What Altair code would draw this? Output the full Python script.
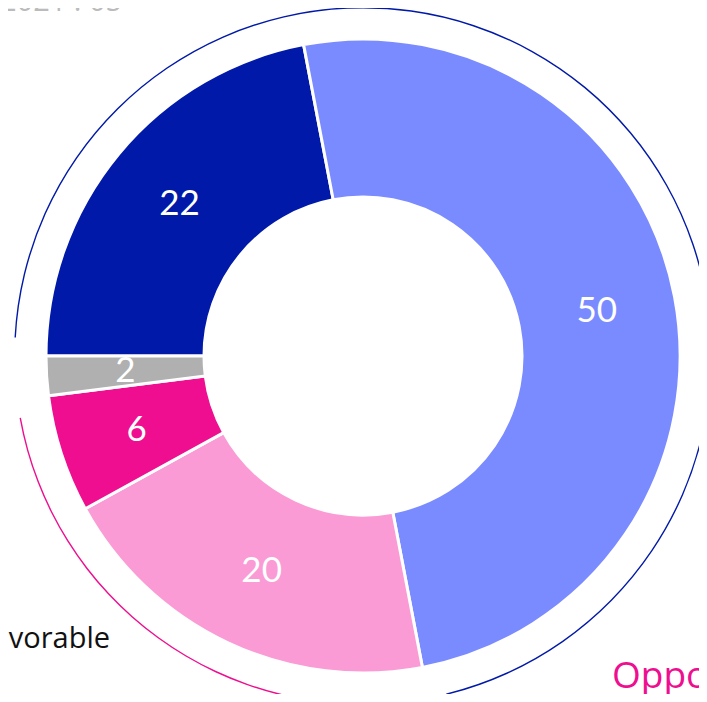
import altair as alt
import pandas as pd
import math

# Data
categories = ["Very favorable", "Somewhat favorable", "Somewhat opposed", "Strongly opposed", "No opinion"]
values = [22, 50, 20, 6, 2]
palette = ["#0019A8", "#7A8BFF", "#FA9BD5", "#EE0E8F", "#B0B0B0"]

groups = ["Favorable", "Opposed", "None"]
group_values = [22 + 50, 20 + 6, 2]
group_colors = ["#0019A8", "#EE0E8F", "transparent"]

title_text = "2021 : 05"

W, H = 691, 686
CX, CY = 355, 348

df = pd.DataFrame({"cat": categories, "value": values, "order": list(range(len(categories)))})
gdf = pd.DataFrame({"grp": groups, "value": group_values, "order": list(range(len(groups)))})

theta_scale = alt.Scale(range=[-math.pi / 2, 3 * math.pi / 2])

base = alt.Chart(df).encode(
    theta=alt.Theta("value:Q", stack=True, scale=theta_scale),
    order=alt.Order("order:O"),
    x=alt.value(CX),
    y=alt.value(CY),
)

donut = base.mark_arc(radius=317, radius2=159, stroke="white", strokeWidth=3).encode(
    color=alt.Color("cat:N", scale=alt.Scale(domain=categories, range=palette), legend=None)
)

labels = base.mark_text(radius=238, font="Lato", fontSize=35, color="white").encode(
    text=alt.Text("value:Q")
)

ring = alt.Chart(gdf).mark_arc(radius=349, radius2=347.6, padAngle=0.075).encode(
    theta=alt.Theta("value:Q", stack=True, scale=theta_scale),
    order=alt.Order("order:O"),
    x=alt.value(CX),
    y=alt.value(CY),
    color=alt.Color("grp:N", scale=alt.Scale(domain=groups, range=group_colors), legend=None),
)

tdf = pd.DataFrame({"t": ["Favorable", "Opposed", title_text]})

fav = alt.Chart(tdf).transform_filter(alt.datum.t == "Favorable").mark_text(
    font="Open Sans", fontSize=29, color="#111111", align="right", baseline="alphabetic"
).encode(text="t:N", x=alt.value(102), y=alt.value(640))

opp = alt.Chart(tdf).transform_filter(alt.datum.t == "Opposed").mark_text(
    font="Open Sans", fontSize=37, color="#EE0E8F", align="left", baseline="alphabetic"
).encode(text="t:N", x=alt.value(604), y=alt.value(680))

ttl = alt.Chart(tdf).transform_filter(alt.datum.t == title_text).mark_text(
    font="Open Sans", fontSize=29, color="#BBBBBB", align="left", baseline="alphabetic"
).encode(text="t:N", x=alt.value(-8), y=alt.value(3))

chart = alt.layer(ring, donut, labels, fav, opp, ttl).resolve_scale(
    color="independent"
).properties(
    width=W, height=H, padding=0, autosize=alt.AutoSizeParams(type="none")
).configure_view(stroke=None)

chart.save("out.html", embed_options={"renderer": "svg", "actions": False})
